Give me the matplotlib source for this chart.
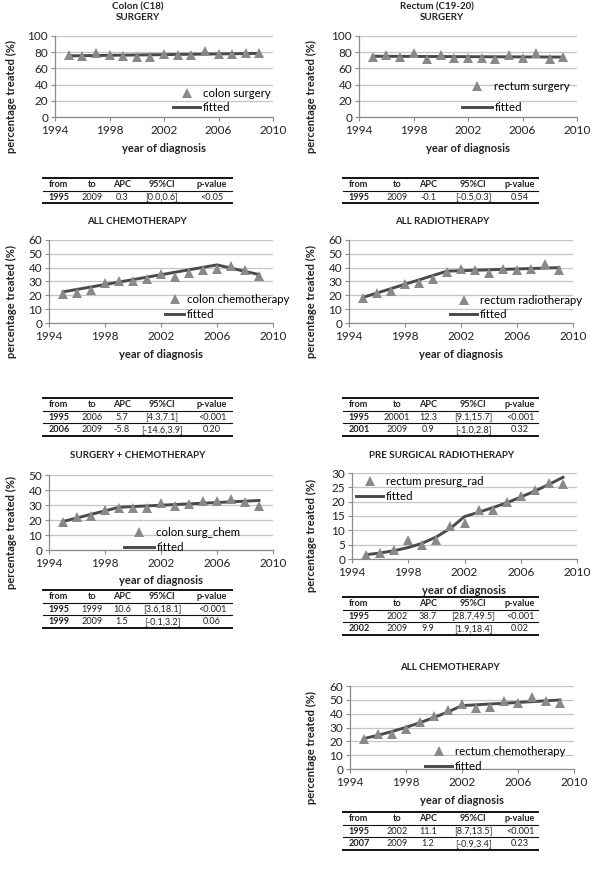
import numpy as np
import matplotlib
matplotlib.use('Agg')
import matplotlib.pyplot as plt
from matplotlib.lines import Line2D

plt.rcParams['font.family'] = ['Lato', 'DejaVu Sans']

# Data
years = list(range(1995, 2010))

colon_surgery = [76, 75, 79, 77, 75, 74, 74, 78, 77, 77, 81, 78, 78, 79, 79]
colon_surgery_fit_x = [1995, 2009]
colon_surgery_fit = [75.5, 78.5]

rectum_surgery = [74, 76, 74, 79, 72, 76, 73, 73, 73, 72, 76, 73, 79, 72, 74]
rectum_surgery_fit_x = [1995, 2009]
rectum_surgery_fit = [75, 74]

colon_chemo = [21, 22, 24, 29, 30, 30, 32, 35.5, 33, 36, 38.5, 39, 41, 38, 34]
colon_chemo_fit_x = [1995, 2006, 2009]
colon_chemo_fit = [22.5, 42, 35]

rectum_radio = [18, 22, 23, 28, 29, 32, 37, 39, 38.5, 36.5, 39, 38, 39, 43, 38]
rectum_radio_fit_x = [1995, 2001, 2009]
rectum_radio_fit = [18.5, 37.5, 40]

colon_surg_chem = [19, 22, 22.5, 27, 28, 28, 28, 31.5, 29.5, 30.5, 33, 33, 34, 32, 29.5]
colon_surg_chem_fit_x = [1995, 1999, 2009]
colon_surg_chem_fit = [19, 28.5, 33]

rectum_presurg = [1.5, 2, 3, 6.5, 5, 6.5, 11.5, 12.5, 17, 17, 20, 22, 24, 26.5, 26]
rectum_presurg_fit_x = years
rectum_presurg_fit = [1.5, 2.1, 2.9, 4.0, 5.5, 7.7, 10.7, 14.8, 16.3, 17.9, 19.6, 21.6, 23.7, 26.0, 28.5]

rectum_chemo = [22, 25, 25, 29, 34, 38, 43, 47, 44, 45, 49, 48, 52, 49, 48]
rectum_chemo_fit_x = years
rectum_chemo_fit = [22, 24.4, 27.1, 30.1, 33.5, 37.2, 41.3, 45.8, 46.4, 47.0, 47.5, 48.1, 48.7, 49.3, 49.9]

table_header = ['from', 'to', 'APC', '95%CI', 'p-value']
t_colon_surgery = [['1995', '2009', '0.3', '[0.0,0.6]', '<0.05']]
t_rectum_surgery = [['1995', '2009', '-0.1', '[-0.5,0.3]', '0.54']]
t_colon_chemo = [['1995', '2006', '5.7', '[4.3,7.1]', '<0.001'],
                 ['2006', '2009', '-5.8', '[-14.6,3.9]', '0.20']]
t_rectum_radio = [['1995', '20001', '12.3', '[9.1,15.7]', '<0.001'],
                  ['2001', '2009', '0.9', '[-1.0,2.8]', '0.32']]
t_colon_surg_chem = [['1995', '1999', '10.6', '[3.6,18.1]', '<0.001'],
                     ['1999', '2009', '1.5', '[-0.1,3.2]', '0.06']]
t_rectum_presurg = [['1995', '2002', '38.7', '[28.7,49.5]', '<0.001'],
                    ['2002', '2009', '9.9', '[1.9,18.4]', '0.02']]
t_rectum_chemo = [['1995', '2002', '11.1', '[8.7,13.5]', '<0.001'],
                  ['2007', '2009', '1.2', '[-0.9,3.4]', '0.23']]

TRI = '#898989'
FIT = '#4a4a4a'
GRID = '#c4c4c4'
SPINE = '#8c8c8c'
TXT = '#222222'

W, H = 600, 872
fig = plt.figure(figsize=(6, 8.72), dpi=100)


# pixel helpers (y measured from the top)
def fx(x): return x / W
def fy(y): return 1 - y / H


def ftext(x, y, s, **kw):
    kw.setdefault('ha', 'center')
    kw.setdefault('va', 'center')
    kw.setdefault('color', TXT)
    fig.text(fx(x), fy(y), s, **kw)


# Draw one chart: observed triangles + fitted line
def panel(rect, obs, fit_x, fit_y, label, ymax, ystep, leg):
    x0, x1, ytop, ybot = rect
    ax = fig.add_axes([fx(x0), fy(ybot), (x1 - x0) / W, (ybot - ytop) / H])
    ax.plot(years, obs, ls='none', marker='^', ms=7.5, color=TRI, mew=0, label=label, zorder=3)
    ax.plot(fit_x, fit_y, color=FIT, lw=2.1, label='fitted', zorder=2)
    ax.set_xlim(1994, 2010)
    ax.set_ylim(0, ymax)
    ax.set_xticks(range(1994, 2011, 4))
    ax.set_yticks(np.arange(0, ymax + 1, ystep))
    ax.grid(axis='y', color=GRID, lw=0.9)
    ax.set_axisbelow(True)
    for s in ['top', 'right']:
        ax.spines[s].set_visible(False)
    for s in ['left', 'bottom']:
        ax.spines[s].set_color(SPINE)
        ax.spines[s].set_linewidth(0.9)
    ax.tick_params(axis='x', length=3, width=0.8, color=SPINE, pad=3, labelsize=8.5, labelcolor=TXT)
    ax.tick_params(axis='y', length=3, width=0.8, color=SPINE, pad=2, labelsize=8.5, labelcolor=TXT)
    # legend, positioned in pixels
    lx, ly, lsp, hl = leg
    ax.legend(loc='upper left', bbox_to_anchor=(fx(lx), fy(ly)), bbox_transform=fig.transFigure,
              frameon=False, fontsize=8.2, numpoints=1, handlelength=hl, handletextpad=0.25,
              labelspacing=lsp, borderpad=0, borderaxespad=0)
    # axis titles
    ftext((x0 + x1) / 2, ybot + 31, 'year of diagnosis', fontsize=8, fontweight='bold')
    ylx = 11 if x0 < 300 else 311
    ftext(ylx, (ytop + ybot) / 2 + 20, 'percentage treated (%)', fontsize=8, fontweight='bold', rotation=90)
    return ax


# Draw a small results table with rules
def table(left, width, top, rows, cols):
    rh = 12.7
    allrows = [table_header] + rows
    n = len(allrows)
    fig.add_artist(Line2D([fx(left), fx(left + width)], [fy(top), fy(top)], color='#111111', lw=1.4))
    for i in range(1, n):
        yy = top + i * rh
        fig.add_artist(Line2D([fx(left), fx(left + width)], [fy(yy), fy(yy)], color='#111111', lw=0.8))
    yb = top + n * rh
    fig.add_artist(Line2D([fx(left), fx(left + width)], [fy(yb), fy(yb)], color='#111111', lw=1.4))
    for i, row in enumerate(allrows):
        yc = top + (i + 0.5) * rh
        for j, val in enumerate(row):
            bold = (i == 0) or (j == 0)
            ftext(left + cols[j], yc, val, fontsize=6.6, fontweight='bold' if bold else 'normal')


cols_l = [16, 49, 79, 119, 169]
cols_r = [16, 54, 85, 130, 177]

# Titles
ftext(138, 7, 'Colon (C18)', fontsize=7, fontweight='bold')
ftext(138, 18, 'SURGERY', fontsize=7, fontweight='bold')
ftext(437, 7, 'Rectum (C19-20)', fontsize=7, fontweight='bold')
ftext(442, 18, 'SURGERY', fontsize=7, fontweight='bold')
ftext(137, 222, 'ALL CHEMOTHERAPY', fontsize=7, fontweight='bold')
ftext(442, 222, 'ALL RADIOTHERAPY', fontsize=7, fontweight='bold')
ftext(138, 455, 'SURGERY + CHEMOTHERAPY', fontsize=7, fontweight='bold')
ftext(442, 455, 'PRE SURGICAL RADIOTHERAPY', fontsize=7, fontweight='bold')
ftext(450, 668, 'ALL CHEMOTHERAPY', fontsize=7, fontweight='bold')

# Charts
panel((55, 273, 36, 117), colon_surgery, colon_surgery_fit_x, colon_surgery_fit,
      'colon surgery', 100, 20, (173, 88, 0.3, 2.4))
panel((359, 577, 36, 117), rectum_surgery, rectum_surgery_fit_x, rectum_surgery_fit,
      'rectum surgery', 100, 20, (462, 81, 0.9, 2.6))
panel((49, 273, 240, 323), colon_chemo, colon_chemo_fit_x, colon_chemo_fit,
      'colon chemotherapy', 60, 10, (165, 294, 0.35, 1.7))
panel((349, 573, 240, 323), rectum_radio, rectum_radio_fit_x, rectum_radio_fit,
      'rectum radiotherapy', 60, 10, (450, 295, 0.25, 2.4))
panel((49, 273, 475, 550), colon_surg_chem, colon_surg_chem_fit_x, colon_surg_chem_fit,
      'colon surg_chem', 50, 10, (124, 527, 0.35, 2.6))
panel((352, 577, 473, 559), rectum_presurg, rectum_presurg_fit_x, rectum_presurg_fit,
      'rectum presurg_rad', 30, 5, (356, 476, 0.35, 2.4))
panel((350, 574, 686, 769), rectum_chemo, rectum_chemo_fit_x, rectum_chemo_fit,
      'rectum chemotherapy', 60, 10, (425, 746, 0.35, 2.4))

# Tables
table(43, 189, 178, t_colon_surgery, cols_l)
table(343, 195, 178, t_rectum_surgery, cols_r)
table(43, 189, 398, t_colon_chemo, cols_l)
table(343, 195, 398, t_rectum_radio, cols_r)
table(43, 189, 590, t_colon_surg_chem, cols_l)
table(343, 195, 597, t_rectum_presurg, cols_r)
table(343, 195, 812, t_rectum_chemo, cols_r)

fig.savefig('out.png', dpi=100, facecolor='white')
